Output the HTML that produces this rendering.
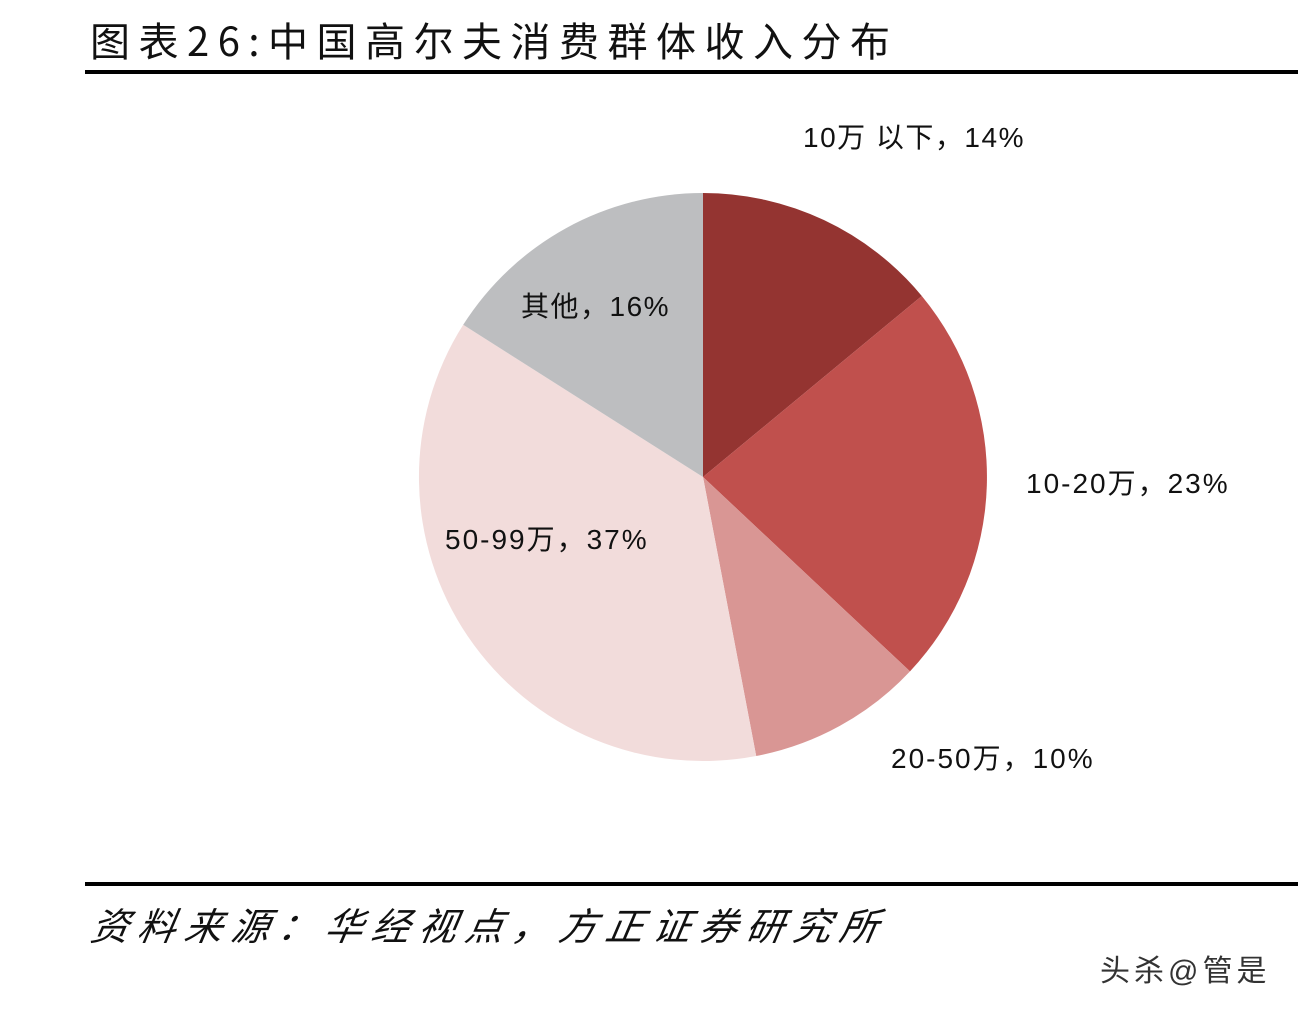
<!DOCTYPE html>
<html><head><meta charset="utf-8"><style>
html,body{margin:0;padding:0;background:#fff;}
body{width:1300px;height:1010px;position:relative;overflow:hidden;font-family:"Liberation Sans","Noto Sans CJK SC",sans-serif;}
.t{position:absolute;white-space:nowrap;color:#111;}
</style></head><body>
<div class="t" style="left:90px;top:10px;font-size:40px;letter-spacing:8.5px;font-family:'Noto Sans CJK SC',sans-serif;">图表26:中国高尔夫消费群体收入分布</div>
<div style="position:absolute;left:85px;top:70px;width:1213px;height:4px;background:#000;"></div>
<svg width="1300" height="1010" style="position:absolute;left:0;top:0">
<path d="M703,477 L703,193 A284,284 0 0 1 921.8,296 Z" fill="#943431"/>
<path d="M703,477 L921.8,296 A284,284 0 0 1 910,671.4 Z" fill="#c0504d"/>
<path d="M703,477 L910,671.4 A284,284 0 0 1 756.2,756 Z" fill="#d99694"/>
<path d="M703,477 L756.2,756 A284,284 0 0 1 463.2,324.8 Z" fill="#f2dcdb"/>
<path d="M703,477 L463.2,324.8 A284,284 0 0 1 703,193 Z" fill="#bdbec0"/>
</svg>
<div class="t" style="left:803px;top:116px;font-size:28px;letter-spacing:1.5px;">10万 以下，14%</div>
<div class="t" style="left:1026px;top:462px;font-size:28px;letter-spacing:2px;">10-20万，23%</div>
<div class="t" style="left:891px;top:737px;font-size:28px;letter-spacing:2px;">20-50万，10%</div>
<div class="t" style="left:445px;top:518px;font-size:28px;letter-spacing:2px;">50-99万，37%</div>
<div class="t" style="left:521px;top:285px;font-size:28px;letter-spacing:1.5px;">其他，16%</div>
<div style="position:absolute;left:85px;top:882px;width:1213px;height:4px;background:#000;"></div>
<div class="t" style="left:92px;top:896px;font-size:38px;font-style:italic;letter-spacing:8.8px;font-family:'Noto Sans CJK SC',sans-serif;transform:skewX(-10deg);">资料来源：华经视点，方正证券研究所</div>
<div class="t" style="left:1100px;top:946px;font-size:30px;color:#333;letter-spacing:4px;">头杀@管是</div>
</body></html>
